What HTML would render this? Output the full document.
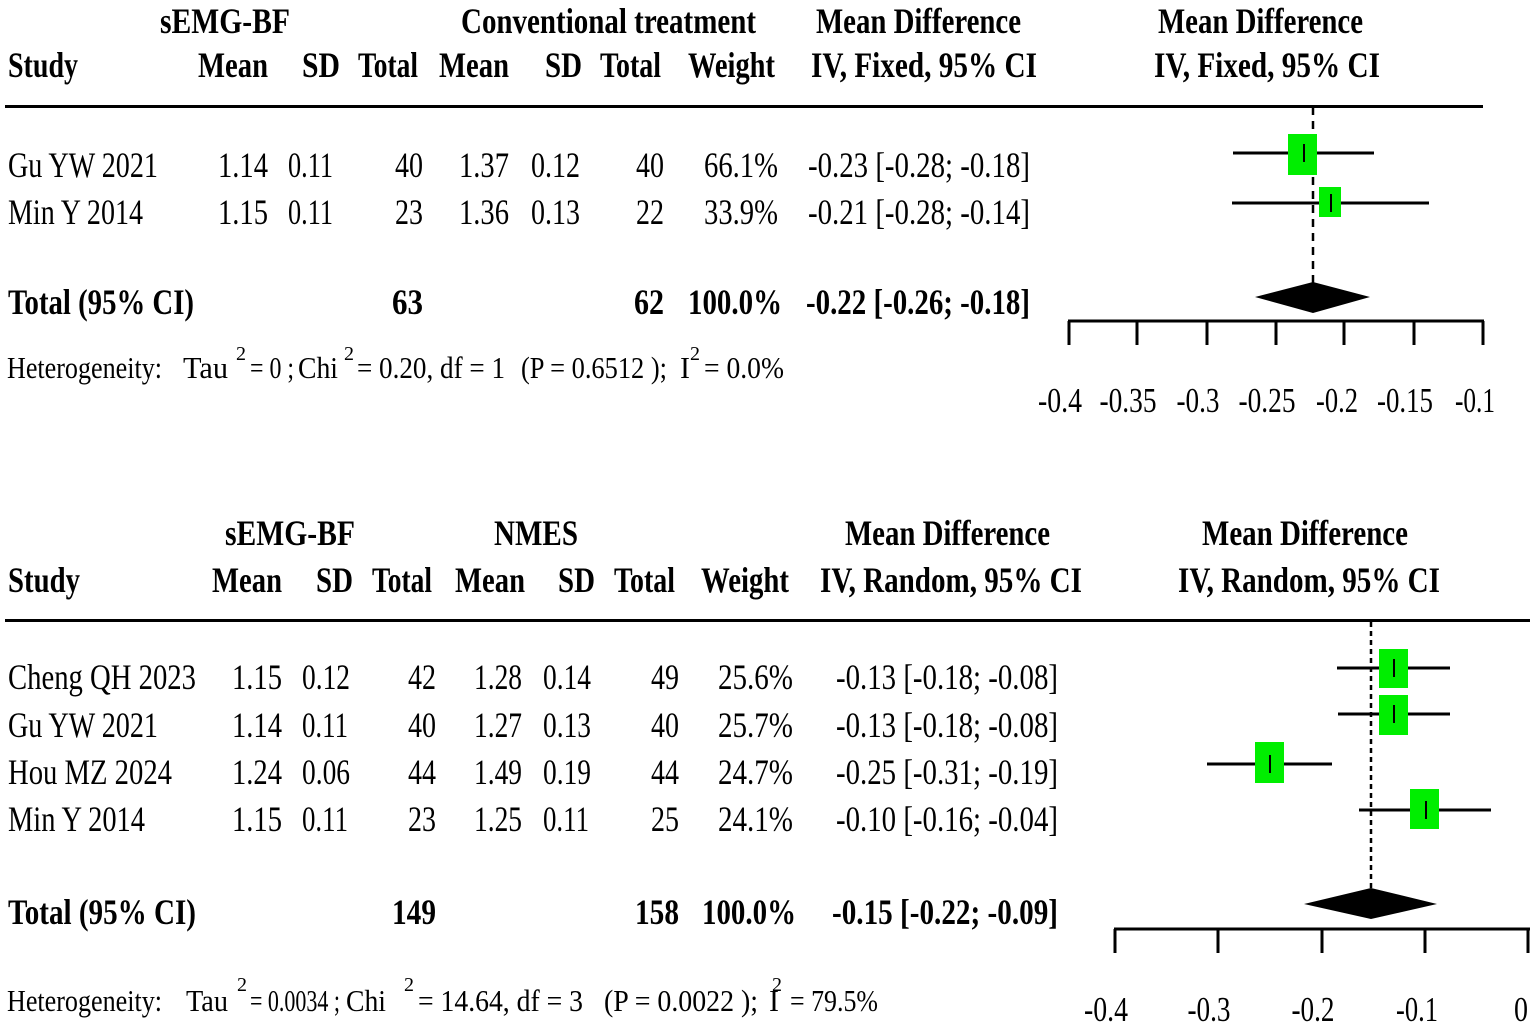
<!DOCTYPE html>
<html><head><meta charset="utf-8"><style>
html,body{margin:0;padding:0;background:#fff;}
svg{display:block;}
text{font-family:"Liberation Serif",serif;fill:#000;}
.b{font-weight:bold;}
.t{font-size:36px;}
.h{font-size:36px;}
.s{font-size:31px;}
.k{font-size:35px;}
.sup{font-size:20px;}
</style></head><body>
<svg width="1535" height="1026" viewBox="0 0 1535 1026" xmlns="http://www.w3.org/2000/svg">
<!-- TOP PANEL -->
<text class="h b" x="160" y="33" textLength="130" lengthAdjust="spacingAndGlyphs">sEMG-BF</text>
<text class="h b" x="461" y="33" textLength="295" lengthAdjust="spacingAndGlyphs">Conventional treatment</text>
<text class="h b" x="816" y="33" textLength="205" lengthAdjust="spacingAndGlyphs">Mean Difference</text>
<text class="h b" x="1158" y="33" textLength="205" lengthAdjust="spacingAndGlyphs">Mean Difference</text>
<text class="h b" x="8" y="77" textLength="70" lengthAdjust="spacingAndGlyphs">Study</text>
<text class="h b" x="198" y="77" textLength="70" lengthAdjust="spacingAndGlyphs">Mean</text>
<text class="h b" x="302" y="77" textLength="38" lengthAdjust="spacingAndGlyphs">SD</text>
<text class="h b" x="358" y="77" textLength="60" lengthAdjust="spacingAndGlyphs">Total</text>
<text class="h b" x="439" y="77" textLength="70" lengthAdjust="spacingAndGlyphs">Mean</text>
<text class="h b" x="545" y="77" textLength="37" lengthAdjust="spacingAndGlyphs">SD</text>
<text class="h b" x="600" y="77" textLength="61" lengthAdjust="spacingAndGlyphs">Total</text>
<text class="h b" x="688" y="77" textLength="87" lengthAdjust="spacingAndGlyphs">Weight</text>
<text class="h b" x="811" y="77" textLength="226" lengthAdjust="spacingAndGlyphs">IV, Fixed, 95% CI</text>
<text class="h b" x="1154" y="77" textLength="226" lengthAdjust="spacingAndGlyphs">IV, Fixed, 95% CI</text>
<rect x="5" y="105" width="1478" height="3"/>

<text class="t" x="8" y="177" textLength="150" lengthAdjust="spacingAndGlyphs">Gu YW 2021</text>
<text class="t" x="218" y="177" textLength="50" lengthAdjust="spacingAndGlyphs">1.14</text>
<text class="t" x="288" y="177" textLength="45" lengthAdjust="spacingAndGlyphs">0.11</text>
<text class="t" x="395" y="177" textLength="28" lengthAdjust="spacingAndGlyphs">40</text>
<text class="t" x="459" y="177" textLength="50" lengthAdjust="spacingAndGlyphs">1.37</text>
<text class="t" x="531" y="177" textLength="49" lengthAdjust="spacingAndGlyphs">0.12</text>
<text class="t" x="636" y="177" textLength="28" lengthAdjust="spacingAndGlyphs">40</text>
<text class="t" x="704" y="177" textLength="74" lengthAdjust="spacingAndGlyphs">66.1%</text>
<text class="t" x="808" y="177" textLength="222" lengthAdjust="spacingAndGlyphs">-0.23 [-0.28; -0.18]</text>

<text class="t" x="8" y="224" textLength="135" lengthAdjust="spacingAndGlyphs">Min Y 2014</text>
<text class="t" x="218" y="224" textLength="50" lengthAdjust="spacingAndGlyphs">1.15</text>
<text class="t" x="288" y="224" textLength="45" lengthAdjust="spacingAndGlyphs">0.11</text>
<text class="t" x="395" y="224" textLength="28" lengthAdjust="spacingAndGlyphs">23</text>
<text class="t" x="459" y="224" textLength="50" lengthAdjust="spacingAndGlyphs">1.36</text>
<text class="t" x="531" y="224" textLength="49" lengthAdjust="spacingAndGlyphs">0.13</text>
<text class="t" x="636" y="224" textLength="28" lengthAdjust="spacingAndGlyphs">22</text>
<text class="t" x="704" y="224" textLength="74" lengthAdjust="spacingAndGlyphs">33.9%</text>
<text class="t" x="808" y="224" textLength="222" lengthAdjust="spacingAndGlyphs">-0.21 [-0.28; -0.14]</text>

<text class="t b" x="8" y="314" textLength="186" lengthAdjust="spacingAndGlyphs">Total (95% CI)</text>
<text class="t b" x="392" y="314" textLength="31" lengthAdjust="spacingAndGlyphs">63</text>
<text class="t b" x="634" y="314" textLength="30" lengthAdjust="spacingAndGlyphs">62</text>
<text class="t b" x="688" y="314" textLength="94" lengthAdjust="spacingAndGlyphs">100.0%</text>
<text class="t b" x="806" y="314" textLength="224" lengthAdjust="spacingAndGlyphs">-0.22 [-0.26; -0.18]</text>

<text class="s" x="7" y="378" textLength="155" lengthAdjust="spacingAndGlyphs">Heterogeneity:</text>
<text class="s" x="183" y="378" textLength="45" lengthAdjust="spacingAndGlyphs">Tau</text>
<text class="sup" x="236" y="360">2</text>
<text class="s" x="250" y="378" textLength="44" lengthAdjust="spacingAndGlyphs">= 0 ;</text>
<text class="s" x="298" y="378" textLength="40" lengthAdjust="spacingAndGlyphs">Chi</text>
<text class="sup" x="344" y="360">2</text>
<text class="s" x="357" y="378" textLength="148" lengthAdjust="spacingAndGlyphs">= 0.20, df = 1</text>
<text class="s" x="521" y="378" textLength="146" lengthAdjust="spacingAndGlyphs">(P = 0.6512 );</text>
<text class="s" x="680" y="378" textLength="10" lengthAdjust="spacingAndGlyphs">I</text>
<text class="sup" x="690" y="360">2</text>
<text class="s" x="704" y="378" textLength="80" lengthAdjust="spacingAndGlyphs">= 0.0%</text>

<!-- top plot -->
<line x1="1313" y1="107" x2="1313" y2="290" stroke="#000" stroke-width="2.5" stroke-dasharray="8,6"/>
<line x1="1233" y1="153" x2="1374" y2="153" stroke="#000" stroke-width="3"/>
<rect x="1288" y="134" width="29" height="41" fill="#00ee00"/>
<line x1="1304" y1="144" x2="1304" y2="162" stroke="#000" stroke-width="2"/>
<line x1="1232" y1="203" x2="1429" y2="203" stroke="#000" stroke-width="3"/>
<rect x="1319" y="187" width="22" height="30" fill="#00ee00"/>
<line x1="1331" y1="194" x2="1331" y2="212" stroke="#000" stroke-width="2"/>
<polygon points="1255,297 1313,282 1370,297 1313,313" fill="#000"/>
<line x1="1068" y1="321" x2="1484" y2="321" stroke="#000" stroke-width="3"/>
<g stroke="#000" stroke-width="3">
<line x1="1069" y1="321" x2="1069" y2="345"/><line x1="1137" y1="321" x2="1137" y2="345"/>
<line x1="1207" y1="321" x2="1207" y2="345"/><line x1="1276" y1="321" x2="1276" y2="345"/>
<line x1="1344" y1="321" x2="1344" y2="345"/><line x1="1414" y1="321" x2="1414" y2="345"/>
<line x1="1483" y1="321" x2="1483" y2="345"/></g>
<g class="k" text-anchor="middle">
<text x="1060" y="412" textLength="44" lengthAdjust="spacingAndGlyphs">-0.4</text>
<text x="1128" y="412" textLength="57" lengthAdjust="spacingAndGlyphs">-0.35</text>
<text x="1198" y="412" textLength="43" lengthAdjust="spacingAndGlyphs">-0.3</text>
<text x="1267" y="412" textLength="57" lengthAdjust="spacingAndGlyphs">-0.25</text>
<text x="1337" y="412" textLength="42" lengthAdjust="spacingAndGlyphs">-0.2</text>
<text x="1405" y="412" textLength="56" lengthAdjust="spacingAndGlyphs">-0.15</text>
<text x="1475" y="412" textLength="40" lengthAdjust="spacingAndGlyphs">-0.1</text>
</g>

<!-- BOTTOM PANEL -->
<text class="h b" x="225" y="545" textLength="130" lengthAdjust="spacingAndGlyphs">sEMG-BF</text>
<text class="h b" x="494" y="545" textLength="84" lengthAdjust="spacingAndGlyphs">NMES</text>
<text class="h b" x="845" y="545" textLength="205" lengthAdjust="spacingAndGlyphs">Mean Difference</text>
<text class="h b" x="1202" y="545" textLength="206" lengthAdjust="spacingAndGlyphs">Mean Difference</text>
<text class="h b" x="8" y="592" textLength="72" lengthAdjust="spacingAndGlyphs">Study</text>
<text class="h b" x="212" y="592" textLength="70" lengthAdjust="spacingAndGlyphs">Mean</text>
<text class="h b" x="316" y="592" textLength="37" lengthAdjust="spacingAndGlyphs">SD</text>
<text class="h b" x="372" y="592" textLength="60" lengthAdjust="spacingAndGlyphs">Total</text>
<text class="h b" x="455" y="592" textLength="70" lengthAdjust="spacingAndGlyphs">Mean</text>
<text class="h b" x="558" y="592" textLength="37" lengthAdjust="spacingAndGlyphs">SD</text>
<text class="h b" x="614" y="592" textLength="61" lengthAdjust="spacingAndGlyphs">Total</text>
<text class="h b" x="701" y="592" textLength="88" lengthAdjust="spacingAndGlyphs">Weight</text>
<text class="h b" x="820" y="592" textLength="262" lengthAdjust="spacingAndGlyphs">IV, Random, 95% CI</text>
<text class="h b" x="1178" y="592" textLength="262" lengthAdjust="spacingAndGlyphs">IV, Random, 95% CI</text>
<rect x="5" y="619" width="1525" height="3"/>

<g class="t">
<text x="8" y="689" textLength="188" lengthAdjust="spacingAndGlyphs">Cheng QH 2023</text>
<text x="232" y="689" textLength="50" lengthAdjust="spacingAndGlyphs">1.15</text>
<text x="302" y="689" textLength="48" lengthAdjust="spacingAndGlyphs">0.12</text>
<text x="408" y="689" textLength="28" lengthAdjust="spacingAndGlyphs">42</text>
<text x="474" y="689" textLength="48" lengthAdjust="spacingAndGlyphs">1.28</text>
<text x="543" y="689" textLength="48" lengthAdjust="spacingAndGlyphs">0.14</text>
<text x="651" y="689" textLength="28" lengthAdjust="spacingAndGlyphs">49</text>
<text x="718" y="689" textLength="75" lengthAdjust="spacingAndGlyphs">25.6%</text>
<text x="836" y="689" textLength="222" lengthAdjust="spacingAndGlyphs">-0.13 [-0.18; -0.08]</text>

<text x="8" y="737" textLength="150" lengthAdjust="spacingAndGlyphs">Gu YW 2021</text>
<text x="232" y="737" textLength="50" lengthAdjust="spacingAndGlyphs">1.14</text>
<text x="302" y="737" textLength="46" lengthAdjust="spacingAndGlyphs">0.11</text>
<text x="408" y="737" textLength="28" lengthAdjust="spacingAndGlyphs">40</text>
<text x="474" y="737" textLength="48" lengthAdjust="spacingAndGlyphs">1.27</text>
<text x="543" y="737" textLength="48" lengthAdjust="spacingAndGlyphs">0.13</text>
<text x="651" y="737" textLength="28" lengthAdjust="spacingAndGlyphs">40</text>
<text x="718" y="737" textLength="75" lengthAdjust="spacingAndGlyphs">25.7%</text>
<text x="836" y="737" textLength="222" lengthAdjust="spacingAndGlyphs">-0.13 [-0.18; -0.08]</text>

<text x="8" y="784" textLength="164" lengthAdjust="spacingAndGlyphs">Hou MZ 2024</text>
<text x="232" y="784" textLength="50" lengthAdjust="spacingAndGlyphs">1.24</text>
<text x="302" y="784" textLength="48" lengthAdjust="spacingAndGlyphs">0.06</text>
<text x="408" y="784" textLength="28" lengthAdjust="spacingAndGlyphs">44</text>
<text x="474" y="784" textLength="48" lengthAdjust="spacingAndGlyphs">1.49</text>
<text x="543" y="784" textLength="48" lengthAdjust="spacingAndGlyphs">0.19</text>
<text x="651" y="784" textLength="28" lengthAdjust="spacingAndGlyphs">44</text>
<text x="718" y="784" textLength="75" lengthAdjust="spacingAndGlyphs">24.7%</text>
<text x="836" y="784" textLength="222" lengthAdjust="spacingAndGlyphs">-0.25 [-0.31; -0.19]</text>

<text x="8" y="831" textLength="137" lengthAdjust="spacingAndGlyphs">Min Y 2014</text>
<text x="232" y="831" textLength="50" lengthAdjust="spacingAndGlyphs">1.15</text>
<text x="302" y="831" textLength="46" lengthAdjust="spacingAndGlyphs">0.11</text>
<text x="408" y="831" textLength="28" lengthAdjust="spacingAndGlyphs">23</text>
<text x="474" y="831" textLength="48" lengthAdjust="spacingAndGlyphs">1.25</text>
<text x="543" y="831" textLength="46" lengthAdjust="spacingAndGlyphs">0.11</text>
<text x="651" y="831" textLength="28" lengthAdjust="spacingAndGlyphs">25</text>
<text x="718" y="831" textLength="75" lengthAdjust="spacingAndGlyphs">24.1%</text>
<text x="836" y="831" textLength="222" lengthAdjust="spacingAndGlyphs">-0.10 [-0.16; -0.04]</text>
</g>

<text class="t b" x="8" y="924" textLength="188" lengthAdjust="spacingAndGlyphs">Total (95% CI)</text>
<text class="t b" x="392" y="924" textLength="44" lengthAdjust="spacingAndGlyphs">149</text>
<text class="t b" x="635" y="924" textLength="44" lengthAdjust="spacingAndGlyphs">158</text>
<text class="t b" x="702" y="924" textLength="94" lengthAdjust="spacingAndGlyphs">100.0%</text>
<text class="t b" x="832" y="924" textLength="226" lengthAdjust="spacingAndGlyphs">-0.15 [-0.22; -0.09]</text>

<text class="s" x="7" y="1011" textLength="155" lengthAdjust="spacingAndGlyphs">Heterogeneity:</text>
<text class="s" x="186" y="1011" textLength="42" lengthAdjust="spacingAndGlyphs">Tau</text>
<text class="sup" x="237" y="991">2</text>
<text class="s" x="250" y="1011" textLength="90" lengthAdjust="spacingAndGlyphs">= 0.0034 ;</text>
<text class="s" x="346" y="1011" textLength="40" lengthAdjust="spacingAndGlyphs">Chi</text>
<text class="sup" x="404" y="991">2</text>
<text class="s" x="418" y="1011" textLength="165" lengthAdjust="spacingAndGlyphs">= 14.64, df = 3</text>
<text class="s" x="604" y="1011" textLength="154" lengthAdjust="spacingAndGlyphs">(P = 0.0022 );</text>
<text class="s" x="769" y="1011" textLength="10" lengthAdjust="spacingAndGlyphs">I</text>
<text class="sup" x="772" y="991">2</text>
<text class="s" x="790" y="1011" textLength="88" lengthAdjust="spacingAndGlyphs">= 79.5%</text>

<!-- bottom plot -->
<line x1="1371" y1="622" x2="1371" y2="892" stroke="#000" stroke-width="2.5" stroke-dasharray="5,4"/>
<g stroke="#000" stroke-width="3">
<line x1="1337" y1="668" x2="1450" y2="668"/>
<line x1="1338" y1="714" x2="1450" y2="714"/>
<line x1="1207" y1="764" x2="1332" y2="764"/>
<line x1="1359" y1="810" x2="1491" y2="810"/>
</g>
<g fill="#00ee00">
<rect x="1379" y="649" width="29" height="39"/>
<rect x="1379" y="695" width="29" height="40"/>
<rect x="1255" y="742" width="29" height="41"/>
<rect x="1410" y="789" width="29" height="40"/>
</g>
<g stroke="#000" stroke-width="2">
<line x1="1394" y1="659" x2="1394" y2="677"/>
<line x1="1394" y1="705" x2="1394" y2="723"/>
<line x1="1270" y1="755" x2="1270" y2="773"/>
<line x1="1426" y1="801" x2="1426" y2="819"/>
</g>
<polygon points="1304,904 1371,888 1437,904 1371,919" fill="#000"/>
<line x1="1114" y1="929" x2="1530" y2="929" stroke="#000" stroke-width="3"/>
<g stroke="#000" stroke-width="3">
<line x1="1115" y1="929" x2="1115" y2="953"/><line x1="1218" y1="929" x2="1218" y2="953"/>
<line x1="1322" y1="929" x2="1322" y2="953"/><line x1="1425" y1="929" x2="1425" y2="953"/>
<line x1="1528" y1="929" x2="1528" y2="953"/></g>
<g class="k" text-anchor="middle">
<text x="1106" y="1021" textLength="44" lengthAdjust="spacingAndGlyphs">-0.4</text>
<text x="1209" y="1021" textLength="43" lengthAdjust="spacingAndGlyphs">-0.3</text>
<text x="1313" y="1021" textLength="43" lengthAdjust="spacingAndGlyphs">-0.2</text>
<text x="1417" y="1021" textLength="42" lengthAdjust="spacingAndGlyphs">-0.1</text>
<text x="1521" y="1021" textLength="14" lengthAdjust="spacingAndGlyphs">0</text>
</g>
</svg>
</body></html>
